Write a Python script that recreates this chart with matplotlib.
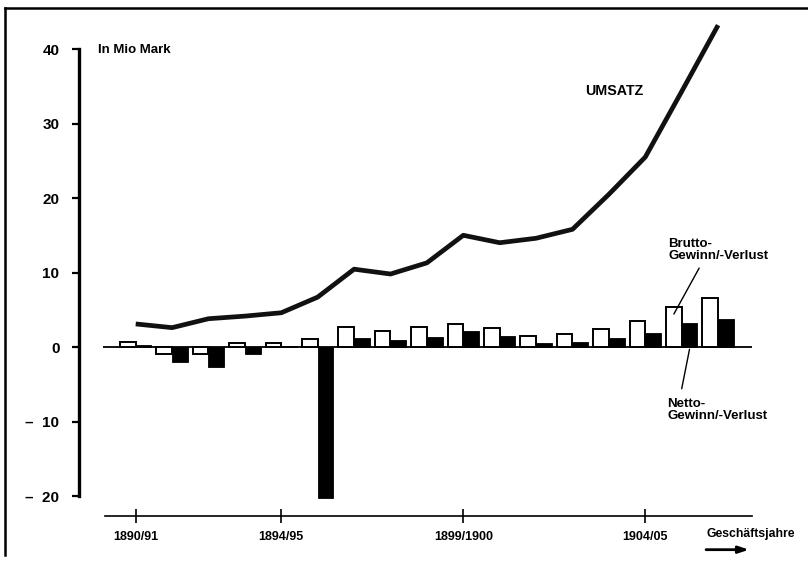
import numpy as np
import matplotlib.pyplot as plt
from matplotlib.lines import Line2D

plt.rcParams['font.family'] = ['Liberation Sans', 'DejaVu Sans']
plt.rcParams['font.weight'] = 'bold'

# Geschäftsjahre 1890/91 .. 1906/07, Werte in Mio Mark
jahre = ['1890/91', '1891/92', '1892/93', '1893/94', '1894/95', '1895/96',
         '1896/97', '1897/98', '1898/99', '1899/1900', '1900/01', '1901/02',
         '1902/03', '1903/04', '1904/05', '1905/06', '1906/07']
umsatz = [3.1, 2.6, 3.8, 4.15, 4.6, 6.7, 10.45, 9.8, 11.3, 15.0, 14.0, 14.6,
          15.8, 20.5, 25.5, 34.3, 43.2]
brutto = [0.7, -1.0, -1.0, 0.5, 0.6, 1.05, 2.7, 2.2, 2.7, 3.1, 2.6, 1.5,
          1.7, 2.4, 3.5, 5.4, 6.6]
netto = [0.25, -2.0, -2.7, -0.9, 0.15, -20.2, 1.2, 0.95, 1.3, 2.1, 1.5, 0.5,
         0.65, 1.2, 1.85, 3.2, 3.7]
tick_jahre = ['1890/91', '1894/95', '1899/1900', '1904/05']
y_ticks = [-20, -10, 0, 10, 20, 30, 40]

fig = plt.figure(figsize=(8.08, 5.61), dpi=100)
ax = fig.add_axes([0, 0, 1, 1])
ax.set_xlim(-3.728, 18.47)
ax.set_ylim(-28.72, 46.58)
ax.patch.set_visible(False)

x = np.arange(len(jahre))
w = 0.43

# Balken: brutto weiss, netto schwarz
ax.bar(x - w / 2, brutto, w, color='white', edgecolor='black', lw=1.4, zorder=3)
ax.bar(x + w / 2, netto, w, color='black', edgecolor='black', lw=0.6, zorder=3)
ax.hlines(0, x[0] - 0.9, x[-1] + 0.93, color='black', lw=1.3, zorder=2)

# Umsatzlinie
ax.plot(x, umsatz, color='#111111', lw=3.4, zorder=4, solid_capstyle='butt')

# Achsen
for s in ['top', 'right']:
    ax.spines[s].set_visible(False)
ax.spines['left'].set_position(('data', -1.56))
ax.spines['left'].set_bounds(-20, 40)
ax.spines['left'].set_linewidth(2.4)
ax.spines['bottom'].set_position(('data', -22.7))
ax.spines['bottom'].set_bounds(-0.85, 16.93)
ax.spines['bottom'].set_linewidth(1.2)

ax.set_yticks(y_ticks)
ax.set_yticklabels([('–  %d' % -v) if v < 0 else str(v) for v in y_ticks],
                   fontsize=11)
ax.tick_params(axis='y', direction='out', length=5, width=1.6, pad=9)
ax.set_xticks([jahre.index(j) for j in tick_jahre])
ax.set_xticklabels(tick_jahre, fontsize=9)
ax.tick_params(axis='x', direction='inout', length=10, width=1.2, pad=6)

# Beschriftungen
ax.text(-1.04, 39.9, 'In Mio Mark', fontsize=9.5, ha='left', va='center')
ax.text(12.35, 34.4, 'UMSATZ', fontsize=10.3, ha='left', va='center')
ax.text(14.64, 14.7, 'Brutto-\nGewinn/-Verlust', fontsize=9.5, ha='left',
        va='top', linespacing=1.0)
ax.text(14.6, -6.9, 'Netto-\nGewinn/-Verlust', fontsize=9.5, ha='left',
        va='top', linespacing=1.0)
ax.annotate('', xy=(x[15] - w / 2, brutto[15] * 0.82), xytext=(15.48, 10.6),
            arrowprops=dict(arrowstyle='-', lw=1.0, shrinkA=0, shrinkB=0))
ax.annotate('', xy=(x[15] + w / 2, -0.3), xytext=(15.0, -5.6),
            arrowprops=dict(arrowstyle='-', lw=1.0, shrinkA=0, shrinkB=0))

ax.text(15.67, -25.1, 'Geschäftsjahre', fontsize=8.8, ha='left', va='center')
ax.annotate('', xy=(16.85, -27.2), xytext=(15.67, -27.2),
            arrowprops=dict(arrowstyle='-|>,head_length=0.6,head_width=0.2',
                            lw=2.0, color='black', shrinkA=0, shrinkB=0))

# Rahmen
fig.add_artist(Line2D([0.006, 1.0], [0.986, 0.986], transform=fig.transFigure,
                      color='black', lw=1.8))
fig.add_artist(Line2D([0.006, 0.006], [0.986, 0.01], transform=fig.transFigure,
                      color='black', lw=1.8))

fig.savefig('out.png', dpi=100)
